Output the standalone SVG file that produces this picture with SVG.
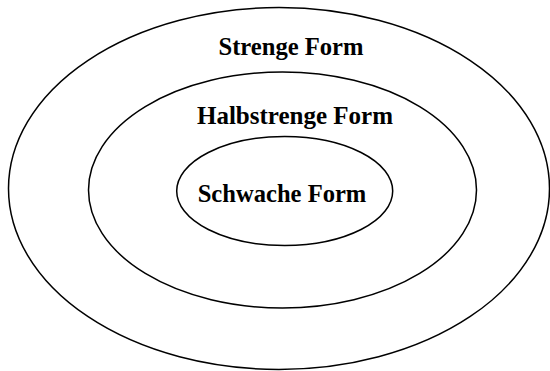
<svg xmlns="http://www.w3.org/2000/svg" width="550" height="371" viewBox="0 0 550 371">
<style>
.ring{fill:none;stroke:#000;stroke-width:1.5}
.lbl{font-family:"Liberation Serif","Times New Roman",serif;font-weight:bold;font-size:24.6px;fill:#000;text-anchor:middle}
</style>
<rect width="550" height="371" fill="#fff"/>
<g id="strenge">
<ellipse class="ring" cx="279" cy="188.5" rx="270.5" ry="181"/>
<text class="lbl" x="291" y="55">Strenge Form</text>
</g>
<g id="halbstrenge">
<ellipse class="ring" cx="282.5" cy="190" rx="194" ry="118"/>
<text class="lbl" x="295" y="124" style="font-size:25px">Halbstrenge Form</text>
</g>
<g id="schwache">
<ellipse class="ring" cx="284.7" cy="191" rx="108" ry="54.5"/>
<text class="lbl" x="282" y="202">Schwache Form</text>
</g>
<g id="connectors"></g>
</svg>
